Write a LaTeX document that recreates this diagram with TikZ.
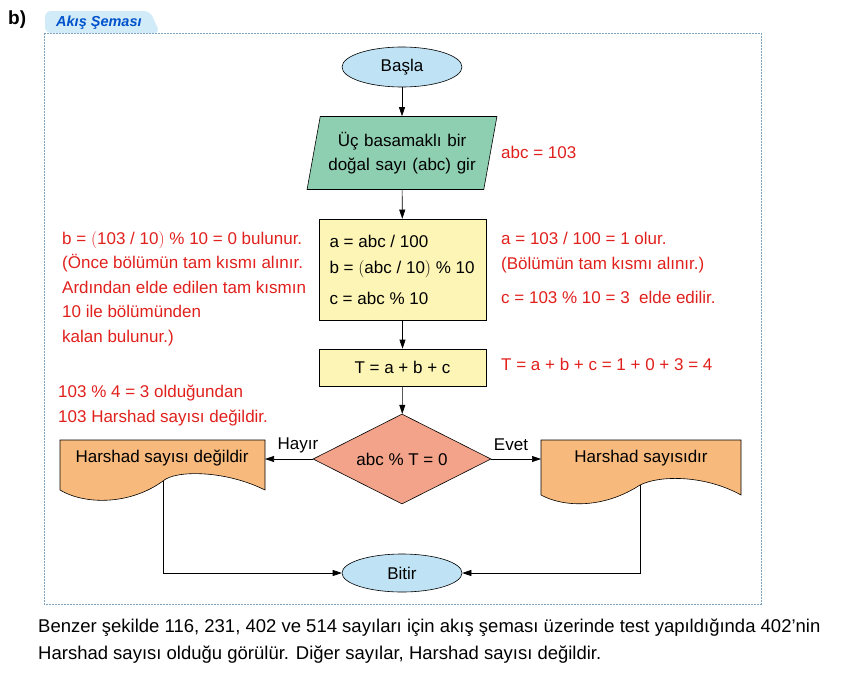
\documentclass[tikz,border=0pt]{standalone}
\usepackage{fontspec}
\setmainfont{Liberation Sans}
\usetikzlibrary{shapes.geometric,arrows.meta}
\definecolor{redt}{HTML}{E0201C}
\definecolor{bluef}{HTML}{BFE3F5}
\definecolor{greenf}{HTML}{8ECFB2}
\definecolor{yellf}{HTML}{FDF5B6}
\definecolor{salm}{HTML}{F2A38A}
\definecolor{orf}{HTML}{F8B97C}
\definecolor{frame}{HTML}{7FA3BF}
\begin{document}
\begin{tikzpicture}[x=1pt,y=-1pt,font=\fontsize{17}{22}\selectfont,
  box/.style={draw,line width=0.6pt},
  arr/.style={-{Triangle[length=9pt,width=6pt]},line width=0.6pt},
  red/.style={text=redt,align=left,anchor=north west,inner sep=0pt,font=\fontsize{17}{24.5}\selectfont}]
\useasboundingbox (0,0) rectangle (845,680);
\node[font=\bfseries\fontsize{19}{22}\selectfont,anchor=west,inner sep=0pt] (b) at (8,20) {b)};
\fill[bluef!70,rounded corners=6pt] (45,33) -- (45,11) -- (150,11) -- (160,33) -- cycle;
\node[font=\bfseries\itshape\fontsize{14.5}{16}\selectfont,text=blue!60!cyan!80!black,anchor=west,inner sep=0pt] (tab) at (56,23) {Akış Şeması};
\draw[frame,dashed,dash pattern=on 2pt off 1pt,line width=1pt] (44,33) rectangle (761,604);
\node[box,ellipse,fill=bluef,minimum width=120,minimum height=40] (start) at (402,67) {Başla};
\node[box,trapezium,trapezium left angle=76,trapezium right angle=104,fill=greenf,minimum width=190,minimum height=73,align=center,trapezium stretches=true,inner xsep=0pt,text width=150,font=\fontsize{17}{24}\selectfont] (in) at (402,153) {Üç basamaklı bir\\ doğal sayı (abc) gir};
\node[box,fill=yellf,minimum width=167,minimum height=101,inner sep=0pt] (calc) at (402.5,269.5) {};
\node[anchor=west] (l1) at (326,241) {a = abc / 100};
\node[anchor=west] (l2) at (326,269) {b = $\bigl($abc / 10$\bigr)$ \% 10};
\node[anchor=west] (l3) at (326,298) {c = abc \% 10};
\node[box,fill=yellf,minimum width=167,minimum height=37] (T) at (402.5,367.5) {T = a + b + c};
\node[box,diamond,aspect=2,fill=salm,minimum width=178,minimum height=90,inner sep=0pt] (d) at (402,459) {abc \% T = 0};
\filldraw[fill=orf,line width=0.6pt] (60,440) -- (265,440) -- (265,490) .. controls (225,470) and (175,470) .. (163,481) .. controls (130,505) and (85,505) .. (60,490) -- cycle;
\node (left) at (162,458) {Harshad sayısı değildir};
\filldraw[fill=orf,line width=0.6pt] (541,440) -- (741,440) -- (741,495) .. controls (705,475) and (660,475) .. (640,485) .. controls (605,508) and (565,508) .. (541,495) -- cycle;
\node (right) at (641,458) {Harshad sayısıdır};
\coordinate (lb) at (163,481);
\coordinate (rb) at (640,485);
\node[box,ellipse,fill=bluef,minimum width=120,minimum height=38] (end) at (402,573) {Bitir};
\draw[arr] (start) -- (in);
\draw[arr] (in) -- (calc);
\draw[arr] (calc) -- (T);
\draw[arr] (T) -- (d);
\draw[arr] (d.west) -- (265,459);
\draw[arr] (d.east) -- (541,459);
\draw[arr] (lb) |- (end.west);
\draw[arr] (rb) |- (end.east);
\node (hay) at (298,445) {Hayır};
\node (evet) at (511,445) {Evet};
\node[red] (r1) at (501,146) {abc = 103};
\node[red] (r2) at (501,232) {a = 103 / 100 = 1 olur.\\(Bölümün tam kısmı alınır.)};
\node[red] (r3) at (501,291) {c = 103 \% 10 = 3 \ elde edilir.};
\node[red] (r4) at (501,358) {T = a + b + c = 1 + 0 + 3 = 4};
\node[red] (r5) at (62,231) {b = $\bigl($103 / 10$\bigr)$ \% 10 = 0 bulunur.\\(Önce bölümün tam kısmı alınır.\\Ardından elde edilen tam kısmın\\10 ile bölümünden\\kalan bulunur.)};
\node[red] (r6) at (58,385) {103 \% 4 = 3 olduğundan\\103 Harshad sayısı değildir.};
\node[anchor=north west,align=left,inner sep=0pt,font=\fontsize{18.5}{27}\selectfont] (para) at (38,619) {Benzer şekilde 116, 231, 402 ve 514 sayıları için akış şeması üzerinde test yapıldığında 402’nin\\Harshad sayısı olduğu görülür. Diğer sayılar, Harshad sayısı değildir.};
\end{tikzpicture}
\end{document}
